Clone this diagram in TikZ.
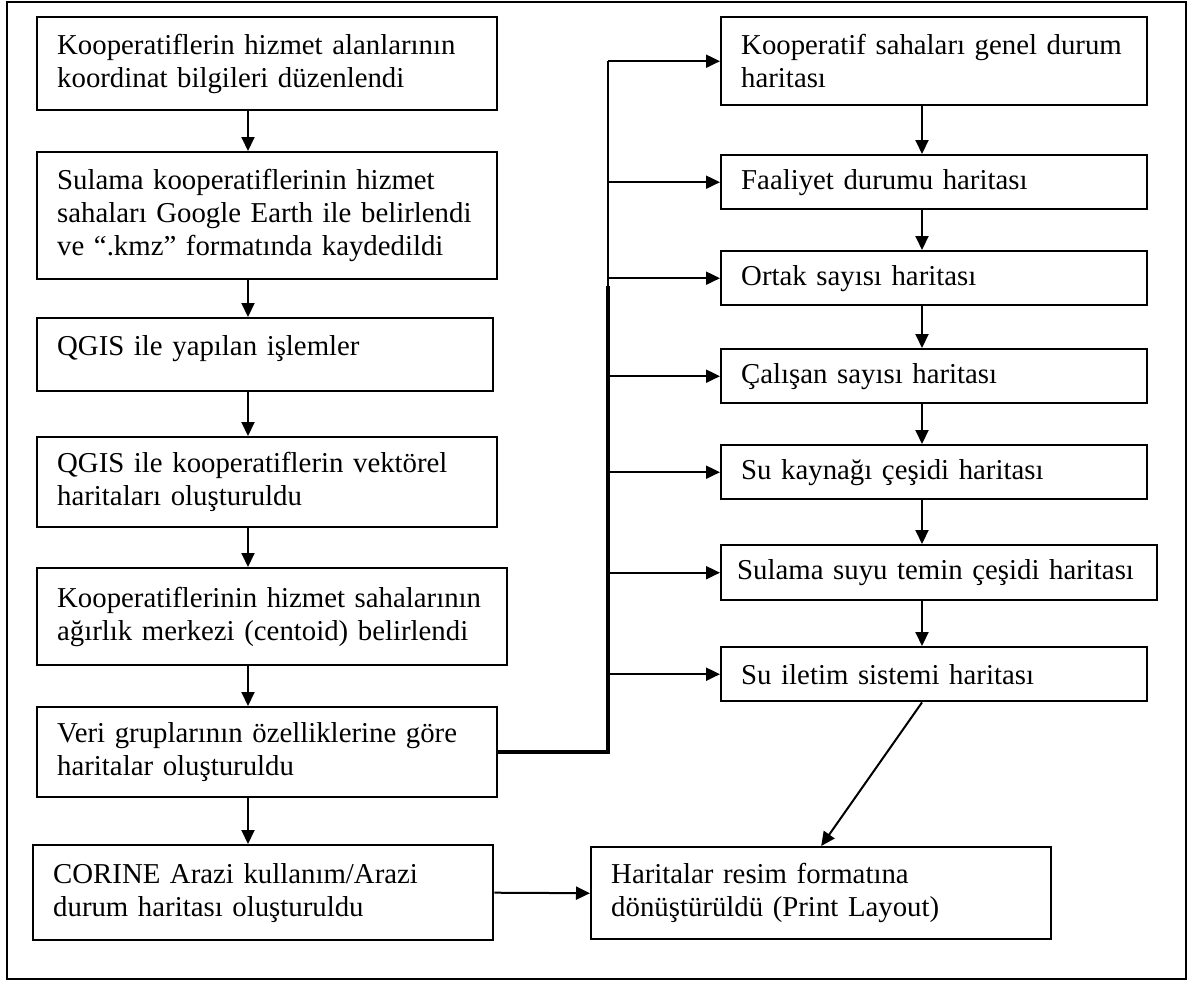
\documentclass[tikz,border=0pt]{standalone}
\usepackage{fontspec}
\setmainfont{Liberation Serif}
\usetikzlibrary{arrows.meta}

\begin{document}
\begin{tikzpicture}[x=0.5pt, y=-0.5pt, >={Triangle[length=7pt, width=6.5pt]},
	box/.style={draw, line width=1.2pt, anchor=north west, align=left, inner xsep=10pt, inner ysep=2pt, font=\fontsize{14.4}{16.5}\selectfont},
	lbox/.style={box, text width=210pt},
	rbox/.style={box, text width=193pt, minimum height=27pt},
	arr/.style={->, line width=1pt}]
			\useasboundingbox (0,0) rectangle (1188,980);
			% frame
			\draw[line width=1pt] (7,1.5) rectangle (1186,978.5);
			% left column
			\node[lbox, minimum height=46.5pt] (k1) at (36,16) {Kooperatiflerin hizmet alanlarının\\koordinat bilgileri düzenlendi};
			\node[lbox, minimum height=63.5pt] (k2) at (36,151) {Sulama kooperatiflerinin hizmet\\sahaları Google Earth ile belirlendi\\ve “.kmz” formatında kaydedildi};
			\node[lbox, text width=208pt, minimum height=36.5pt, text depth=9.5pt] (k3) at (36,317) {QGIS ile yapılan işlemler};
			\node[lbox, minimum height=45pt] (k4) at (36,436) {QGIS ile kooperatiflerin vektörel\\haritaları oluşturuldu};
			\node[lbox, text width=215pt, minimum height=48.5pt] (k5) at (36,567) {Kooperatiflerinin hizmet sahalarının\\ağırlık merkezi (centoid) belirlendi};
			\node[lbox, minimum height=45pt] (k6) at (36,706) {Veri gruplarının özelliklerine göre\\haritalar oluşturuldu};
			\node[lbox, minimum height=47.5pt] (k7) at (32,844) {CORINE Arazi kullanım/Arazi\\durum haritası oluşturuldu};
			% right column
			\node[rbox, minimum height=44pt] (r1) at (720,16) {Kooperatif sahaları genel durum\\haritası};
			\node[rbox] (r2) at (720,154) {Faaliyet durumu haritası};
			\node[rbox] (r3) at (720,250) {Ortak sayısı haritası};
			\node[rbox] (r4) at (720,348) {Çalışan sayısı haritası};
			\node[rbox] (r5) at (720,444) {Su kaynağı çeşidi haritası};
			\node[rbox, inner xsep=8pt, text width=202pt, minimum height=27.5pt] (r6) at (720,544) {Sulama suyu temin çeşidi haritası};
			\node[rbox] (r7) at (720,646) {Su iletim sistemi haritası};
			\node[lbox, minimum height=46pt] (son) at (590,846) {Haritalar resim formatına\\dönüştürüldü (Print Layout)};
			% arrows
			\coordinate (lx) at (248,0);
			\coordinate (rx) at (922,0);
			\foreach \i/\j in {1/2,2/3,3/4,4/5,5/6,6/7}
				\draw[arr] (k\i.south -| lx) -- (k\j.north -| lx);
			\foreach \i/\j in {1/2,2/3,3/4,4/5,5/6,6/7}
				\draw[arr] (r\i.south -| rx) -- (r\j.north -| rx);
			\draw[arr] (r7.south -| rx) -- (son.north);
			\draw[arr] (k7.east) -- (son.west);
			% bus
			\coordinate (b0) at (608,286);
			\draw[line width=2pt] (k6.east) -| (b0);
			\draw[line width=1pt] (b0) -- (b0 |- r1.west);
			\foreach \i in {1,...,7}
				\draw[arr] (b0 |- r\i.west) -- (r\i.west);
		\end{tikzpicture}
\end{document}
